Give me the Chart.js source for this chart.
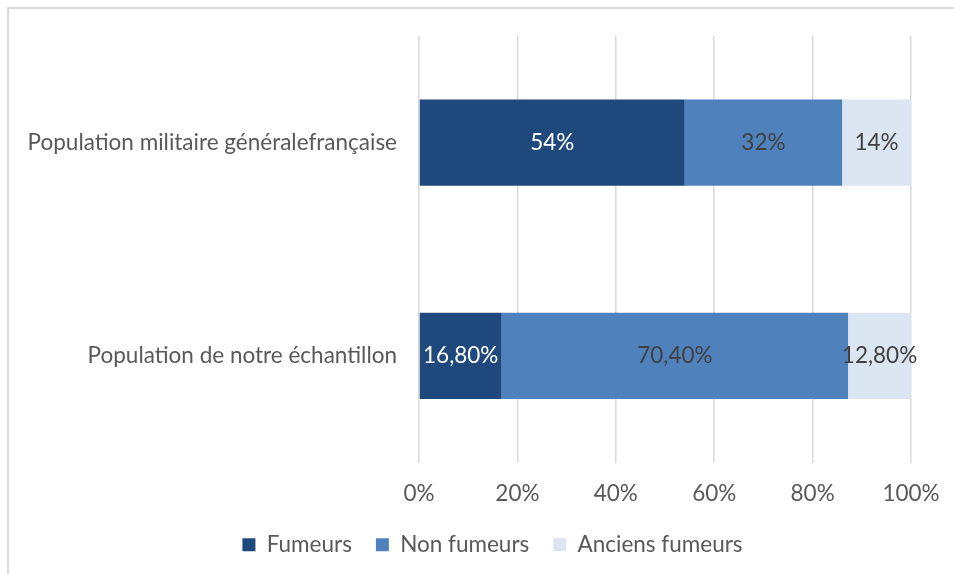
<!DOCTYPE html>
<html>
<head>
<meta charset="utf-8">
<script src="https://cdn.jsdelivr.net/npm/chart.js@4/dist/chart.umd.min.js"></script>
<style>
  html, body { margin: 0; padding: 0; background: #fff; }
  #wrap { position: relative; width: 954px; height: 574px; overflow: hidden; }
  #frame { position: absolute; left: 7px; top: 7px; width: 960px; height: 580px;
           border-left: 2px solid #d9d9d9; border-top: 2px solid #d9d9d9; box-sizing: border-box; }
  canvas { position: absolute; left: 0; top: 0; }
</style>
</head>
<body>
<div id="wrap">
  <div id="frame"></div>
  <canvas id="c" width="954" height="574"></canvas>
</div>
<script>
const categories = ["Population militaire généralefrançaise", "Population de notre échantillon"];
const seriesNames = ["Fumeurs", "Non fumeurs", "Anciens fumeurs"];
const fumeurs = [54, 16.8];
const nonFumeurs = [32, 70.4];
const anciensFumeurs = [14, 12.8];
const fumeursLabels = ["54%", "16,80%"];
const nonFumeursLabels = ["32%", "70,40%"];
const anciensFumeursLabels = ["14%", "12,80%"];
const tickValues = [0, 20, 40, 60, 80, 100];

const FONT = "Lato, 'Liberation Sans', sans-serif";
const FSIZE = 22.5;

const labelPlugin = {
  id: 'barLabels',
  afterLayout(chart) {
    if (chart.legend) { chart.legend.left += 37; chart.legend.right += 37; }
  },
  afterDatasetsDraw(chart) {
    const ctx = chart.ctx;
    ctx.save();
    ctx.font = FSIZE + "px " + FONT;
    ctx.textAlign = 'center';
    ctx.textBaseline = 'middle';
    chart.data.datasets.forEach((ds, di) => {
      const meta = chart.getDatasetMeta(di);
      meta.data.forEach((el, i) => {
        const cx = (el.x + el.base) / 2;
        ctx.fillStyle = ds.labelColor;
        ctx.fillText(ds.valueLabels[i], cx, el.y);
      });
    });
    ctx.restore();
  }
};

new Chart(document.getElementById('c'), {
  type: 'bar',
  data: {
    labels: categories,
    datasets: [
      { label: seriesNames[0], data: fumeurs, backgroundColor: '#1f497d', valueLabels: fumeursLabels, labelColor: '#ffffff' },
      { label: seriesNames[1], data: nonFumeurs, backgroundColor: '#4f81bd', valueLabels: nonFumeursLabels, labelColor: '#404040' },
      { label: seriesNames[2], data: anciensFumeurs, backgroundColor: '#dce6f2', valueLabels: anciensFumeursLabels, labelColor: '#404040' }
    ]
  },
  options: {
    indexAxis: 'y',
    responsive: false,
    animation: false,
    devicePixelRatio: 1,
    layout: { padding: { top: 36, right: 43, bottom: 8, left: 0 } },
    datasets: { bar: { categoryPercentage: 1, barPercentage: 0.404, borderWidth: 0 } },
    scales: {
      x: {
        stacked: true, min: 0, max: 100,
        afterBuildTicks(scale) { scale.ticks = tickValues.map(v => ({ value: v })); },
        ticks: { callback: v => v + '%', color: '#595959', font: { family: FONT, size: FSIZE }, padding: 18, maxRotation: 0 },
        grid: { color: '#d9d9d9', lineWidth: 1.5, drawTicks: false },
        border: { display: false },
        afterFit(scale) { scale.height = 47; scale.paddingRight = 0; scale.paddingLeft = 0; }
      },
      y: {
        stacked: true,
        ticks: { color: '#595959', font: { family: FONT, size: FSIZE }, padding: 22 },
        grid: { display: false, drawTicks: false },
        border: { display: false },
        afterFit(scale) { scale.width = 419; }
      }
    },
    plugins: {
      legend: {
        position: 'bottom',
        labels: { color: '#595959', font: { family: FONT, size: FSIZE }, boxWidth: 13, boxHeight: 13, padding: 24 }
      },
      tooltip: { enabled: false }
    }
  },
  plugins: [labelPlugin]
});
</script>
</body>
</html>
